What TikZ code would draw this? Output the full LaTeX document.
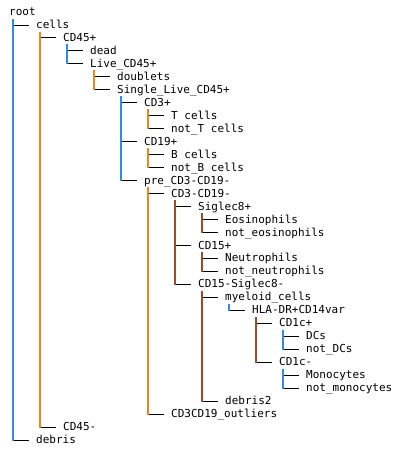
\documentclass[tikz,border=0pt]{standalone}
\usepackage{fontspec}
\newfontfamily\treefont{DejaVu Sans Mono}
\usepackage{tikz}
\usetikzlibrary{calc,positioning}
\definecolor{treeblue}{RGB}{52,138,226}
\definecolor{treeorange}{RGB}{230,136,30}
\definecolor{treebrown}{RGB}{160,72,42}
\tikzstyle{pop} = [anchor=west,font=\treefont\fontsize{11}{13}\selectfont,inner sep=0pt,text height=8pt,text depth=1pt]
\tikzstyle{branch} = [line width=0.9pt,black]
\tikzstyle{bar} = [line width=2pt]
\tikzset{>=latex}

\begin{document}
\begin{tikzpicture}[x=1pt,y=-1pt]
    \useasboundingbox (0,0) rectangle (407,456);

    \node [pop] (root) at (9,12) {root};
    \node [pop] (cells) at (36,25) {cells};
    \node [pop] (cd45p) at (63,37.9) {CD45+};
    \node [pop] (dead) at (90,50.9) {dead};
    \node [pop] (live) at (90,63.9) {Live\_CD45+};
    \node [pop] (doublets) at (117,76.9) {doublets};
    \node [pop] (single) at (117,89.8) {Single\_Live\_CD45+};
    \node [pop] (cd3p) at (144,102.8) {CD3+};
    \node [pop] (tcells) at (171,115.8) {T cells};
    \node [pop] (nottcells) at (171,128.7) {not\_T cells};
    \node [pop] (cd19p) at (144,141.7) {CD19+};
    \node [pop] (bcells) at (171,154.7) {B cells};
    \node [pop] (notbcells) at (171,167.6) {not\_B cells};
    \node [pop] (pre) at (144,180.6) {pre\_CD3-CD19-};
    \node [pop] (cd3cd19) at (171,193.6) {CD3-CD19-};
    \node [pop] (siglec) at (198,206.6) {Siglec8+};
    \node [pop] (eos) at (225,219.5) {Eosinophils};
    \node [pop] (noteos) at (225,232.5) {not\_eosinophils};
    \node [pop] (cd15p) at (198,245.5) {CD15+};
    \node [pop] (neut) at (225,258.4) {Neutrophils};
    \node [pop] (notneut) at (225,271.4) {not\_neutrophils};
    \node [pop] (cd15sig) at (198,284.4) {CD15-Siglec8-};
    \node [pop] (myeloid) at (225,297.3) {myeloid\_cells};
    \node [pop] (hla) at (252,310.3) {HLA-DR+CD14var};
    \node [pop] (cd1cp) at (279,323.3) {CD1c+};
    \node [pop] (dcs) at (306,336.3) {DCs};
    \node [pop] (notdcs) at (306,349.2) {not\_DCs};
    \node [pop] (cd1cm) at (279,362.2) {CD1c-};
    \node [pop] (mono) at (306,375.2) {Monocytes};
    \node [pop] (notmono) at (306,388.1) {not\_monocytes};
    \node [pop] (debristwo) at (225,401.1) {debris2};
    \node [pop] (outliers) at (171,414.1) {CD3CD19\_outliers};
    \node [pop] (cd45m) at (63,427) {CD45-};
    \node [pop] (debris) at (36,440) {debris};

    % branches from each parent to its children
    \foreach \p/\c in {root/cells,root/debris,cells/cd45p,cells/cd45m,cd45p/dead,cd45p/live,
        live/doublets,live/single,single/cd3p,single/cd19p,single/pre,cd3p/tcells,cd3p/nottcells,
        cd19p/bcells,cd19p/notbcells,pre/cd3cd19,pre/outliers,cd3cd19/siglec,cd3cd19/cd15p,
        cd3cd19/cd15sig,siglec/eos,siglec/noteos,cd15p/neut,cd15p/notneut,cd15sig/myeloid,
        cd15sig/debristwo,myeloid/hla,hla/cd1cp,hla/cd1cm,cd1cp/dcs,cd1cp/notdcs,cd1cm/mono,cd1cm/notmono}
      \draw [branch] ($(\c.west -| \p.west)+(3.5,0)$) -- ($(\c.west)+(-7,0)$);

    % vertical bars, parent down to its last child
    \foreach \p/\l/\col in {root/debris/treeblue,cells/cd45m/treeorange,cd45p/live/treeblue,
        live/single/treeorange,single/pre/treeblue,cd3p/nottcells/treeorange,cd19p/notbcells/treeorange,
        pre/outliers/treeorange,cd3cd19/cd15sig/treebrown,siglec/noteos/treebrown,cd15p/notneut/treebrown,
        cd15sig/debristwo/treebrown,myeloid/hla/treeblue,hla/cd1cm/treebrown,cd1cp/notdcs/treeblue,
        cd1cm/notmono/treeblue}
      \draw [bar,draw=\col] ($(\p.west)+(3.5,6.5)$) -- ($(\l.west -| \p.west)+(3.5,0.5)$);
\end{tikzpicture}
\end{document}
